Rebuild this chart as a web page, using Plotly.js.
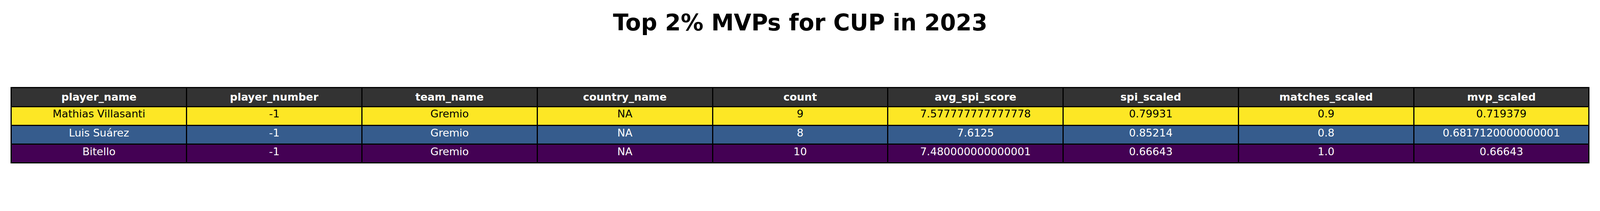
<!DOCTYPE html><html><head><script src="https://cdn.plot.ly/plotly-3.0.1.min.js"></script>
<style>body{margin:0}</style></head><body><div id="c"></div><script>
const headers=["player_name","player_number","team_name","country_name","count","avg_spi_score","spi_scaled","matches_scaled","mvp_scaled"];
const player_name=["Mathias Villasanti","Luis Suárez","Bitello"];
const player_number=["-1","-1","-1"];
const team_name=["Gremio","Gremio","Gremio"];
const country_name=["NA","NA","NA"];
const count=["9","8","10"];
const avg_spi_score=["7.577777777777778","7.6125","7.480000000000001"];
const spi_scaled=["0.79931","0.85214","0.66643"];
const matches_scaled=["0.9","0.8","1.0"];
const mvp_scaled=["0.719379","0.6817120000000001","0.66643"];
const rowColors=["#fde725","#365c8d","#440154"];
const rowFont=["#000000","#ffffff","#ffffff"];
const cols=[player_name,player_number,team_name,country_name,count,avg_spi_score,spi_scaled,matches_scaled,mvp_scaled];
const k=1/1.036, W=Math.round(4245*k), H=Math.round(541*k);
Plotly.newPlot('c',[{type:'table',domain:{x:[30/4245,4215/4245],y:[0,1-233/541]},
header:{values:headers.map(h=>'<b>'+h+'</b>'),fill:{color:'#333333'},line:{color:'#000',width:3},align:'center',height:50*k,font:{family:'DejaVu Sans',size:28*k,color:'#fff'}},
cells:{values:cols,fill:{color:headers.map(()=>rowColors)},line:{color:'#000',width:3},align:'center',height:50*k,font:{family:'DejaVu Sans',size:28*k,color:headers.map(()=>rowFont)}}}],
{width:W,height:H,margin:{l:0,r:0,t:0,b:0},paper_bgcolor:'#fff',
title:{text:'<b>Top 2% MVPs for CUP in 2023</b>',x:0.5,y:1-60/541,yanchor:'middle',font:{family:'DejaVu Sans',size:60*k,color:'#000'}}},{displayModeBar:false});
</script></body></html>
